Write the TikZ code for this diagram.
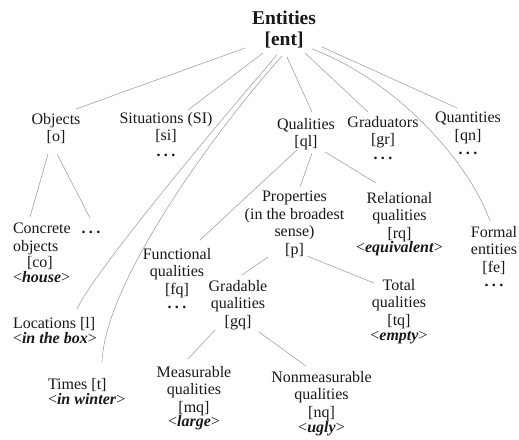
\documentclass[tikz,border=0pt]{standalone}
\usepackage{fontspec}
\setmainfont{Liberation Serif}
\usetikzlibrary{calc}
\newcommand\dts{\textbf{.\hspace{3.5pt}.\hspace{3.5pt}.}}
\newcommand\ex[1]{<\textbf{\textit{#1}}>}
\newcommand\bk[1]{{[#1]}}
\begin{document}
\begin{tikzpicture}[x=1pt,y=-1pt,
  lbl/.style={inner sep=0pt,outer sep=0pt,align=center,anchor=north,font=\fontsize{16}{17.5}\selectfont,text=black!90},
  lbll/.style={lbl,align=left,anchor=north west},
  edge/.style={draw=black!38,line width=0.55pt}]
\useasboundingbox[fill=white] (0,0) rectangle (519,439);
\node[lbl,font=\bfseries\fontsize{19.5}{21}\selectfont] (ent) at (284,10.5) {Entities\\\bk{ent}};
\node[lbl] (obj) at (56,113) {Objects\\\bk{o}};
\node[lbl] (si) at (166,112) {Situations (SI)\\\bk{si}\\[-2pt]\dts};
\node[lbl] (ql) at (306,118) {Qualities\\\bk{ql}};
\node[lbl] (gr) at (383,116) {Graduators\\\bk{gr}\\[-3pt]\dts};
\node[lbl] (qn) at (468,112) {Quantities\\\bk{qn}\\[-3pt]\dts};
\node[lbll] (co) at (13,223) {Concrete\\objects\\[-1pt]\hspace*{14pt}\bk{co}\\[-2.5pt]\ex{house}};
\node[lbl,anchor=base] (codots) at (91,233) {\dts};
\node[lbl] (fq) at (177,248) {Functional\\qualities\\\bk{fq}\\[-3pt]\dts};
\node[lbl] (p) at (294.5,191) {Properties\\(in the broadest\\sense)\\\bk{p}};
\node[lbl] (rq) at (399.5,192) {Relational\\qualities\\\bk{rq}\\[-3pt]\ex{equivalent}};
\node[lbl] (fe) at (494,226) {Formal\\entities\\\bk{fe}\\[-3pt]\dts};
\node[lbl] (gq) at (238,280) {Gradable\\qualities\\\bk{gq}};
\node[lbl] (tq) at (399,279) {Total\\qualities\\\bk{tq}\\[-2pt]\ex{empty}};
\node[lbll] (l) at (13,317) {Locations [l]\\[-2pt]\ex{in the box}};
\node[lbll] (t) at (48,378) {Times [t]\\[-2pt]\ex{in winter}};
\node[lbl] (mq) at (194,366) {Measurable\\qualities\\\bk{mq}\\[-3pt]\ex{large}};
\node[lbl] (nq) at (321.5,371) {Nonmeasurable\\qualities\\\bk{nq}\\[-2.5pt]\ex{ugly}};
% edges from Entities
\draw[edge] ($(ent.north)+(-39,37.5)$) -- ($(obj.north)+(20,-4)$);
\draw[edge] ($(ent.north)+(-21,42.5)$) -- ($(si.north)+(22,-2)$);
\draw[edge] ($(ent.north)+(-7,44.5)$) .. controls (225,115) and (95,270) .. ($(l.north west)+(64,-8)$);
\draw[edge] ($(ent.north)+(-2,45.5)$) .. controls (220,125) and (105,280) .. ($(t.north west)+(54,-16)$);
\draw[edge] ($(ent.north)+(3,46.5)$) -- ($(ql.north)+(6,-6)$);
\draw[edge] ($(ent.north)+(21,42.5)$) -- ($(gr.north)+(-15,-4)$);
\draw[edge] ($(ent.north)+(28,38.5)$) .. controls (395,80) and (468,160) .. ($(fe.north)+(-4,-5)$);
\draw[edge] ($(ent.north)+(38,36.5)$) -- ($(qn.north)+(-11,-4)$);
% objects
\draw[edge] ($(obj.north)+(-8,41)$) -- ($(co.north west)+(17,-6)$);
\draw[edge] ($(obj.north)+(1,41)$) -- ($(codots.base)+(-1,-15)$);
% qualities
\draw[edge] ($(ql.north)+(-9,32)$) -- ($(fq.north)+(23,-8)$);
\draw[edge] ($(ql.north)+(6,35)$) -- ($(p.north)+(5.5,-4)$);
\draw[edge] ($(ql.north)+(19,34)$) -- ($(rq.north)+(-23.5,-9)$);
% properties
\draw[edge] ($(p.north)+(-26.5,66)$) -- ($(gq.north)+(4,-5)$);
\draw[edge] ($(p.north)+(12.5,65)$) -- ($(tq.north)+(-25,4)$);
% gradable
\draw[edge] ($(gq.north)+(-23,50)$) -- ($(mq.north)+(-6,-7)$);
\draw[edge] ($(gq.north)+(21,52)$) -- ($(nq.north)+(-15.5,-5)$);
\end{tikzpicture}
\end{document}
